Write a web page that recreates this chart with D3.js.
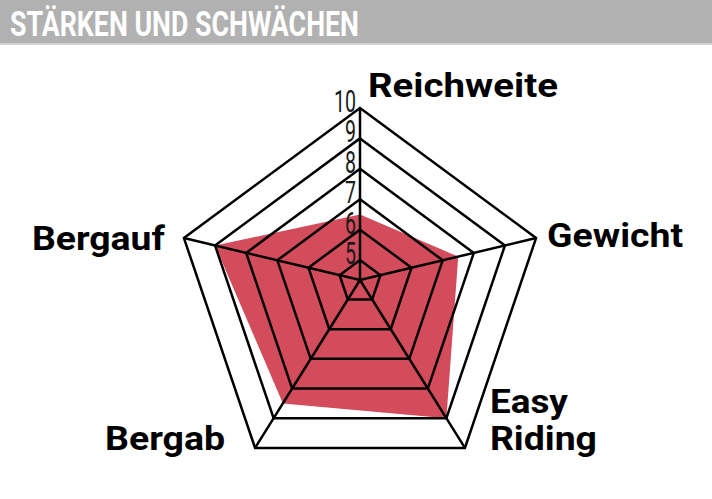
<!DOCTYPE html>
<html>
<head>
<meta charset="utf-8">
<script src="https://cdn.jsdelivr.net/npm/d3@7"></script>
<style>
  body { margin: 0; background: #fff; }
  text { font-family: Roboto, "DejaVu Sans", sans-serif; }
</style>
</head>
<body>
<svg id="chart"></svg>
<script>
const title = "STÄRKEN UND SCHWÄCHEN";
const axes = ["Reichweite", "Gewicht", "Easy Riding", "Bergab", "Bergauf"];
const scores = [6.5, 7.5, 9, 8.5, 9];
const ticks = [5, 6, 7, 8, 9, 10];

// spoke geometry, the artwork is a slightly skewed pentagon
const spokeAngle = [0, 76.6, 148, 212, 283.4];
const spokeReach = [172, 181, 198, 198, 181];
// label placement relative to the outer vertex
const labelDx = [8, 11, 25, -30, -19];
const labelDy = [-11, 9, -35, 2, 12];
const labelAnchor = ["start", "start", "start", "end", "end"];
// printed width of each label line (the original face is wide)
const lineWidth = { "Reichweite": 190, "Gewicht": 136, "Easy": 78, "Riding": 107, "Bergab": 120, "Bergauf": 133 };

const width = 712, height = 499;
const cx = 360, cy = 280;

let svg = d3.select("#chart")
    .attr("width", width)
    .attr("height", height);

// header
svg.append("rect")
    .attr("x", 0).attr("y", 0)
    .attr("width", width).attr("height", 44)
    .attr("fill", "#b1b1b1");
svg.append("rect")
    .attr("x", 0).attr("y", 43)
    .attr("width", width).attr("height", 2)
    .attr("fill", "#d4d4d4");
svg.append("text")
    .attr("x", 10).attr("y", 36)
    .attr("fill", "#fff")
    .attr("font-size", 35)
    .attr("font-weight", 700)
    .attr("textLength", 349)
    .attr("lengthAdjust", "spacingAndGlyphs")
    .text(title);

// radial scale: value -> fraction of the spoke
let r = d3.scaleLinear().domain([5, 10]).range([0.116, 1]);

function pt(i, v) {
    let a = spokeAngle[i] * Math.PI / 180;
    let d = r(v) * spokeReach[i];
    return [cx + d * Math.sin(a), cy - d * Math.cos(a)];
}

let line = d3.line().curve(d3.curveLinearClosed);

// score area
svg.append("path")
    .attr("d", line(scores.map((v, i) => pt(i, v))))
    .attr("fill", "#d24c5b");

// rings
svg.append("g")
    .selectAll("path")
    .data(ticks)
    .join("path")
    .attr("d", t => line(axes.map((a, i) => pt(i, t))))
    .attr("fill", "none")
    .attr("stroke", "#000")
    .attr("stroke-width", 2.5);

// spokes
svg.append("g")
    .selectAll("line")
    .data(axes)
    .join("line")
    .attr("x1", cx).attr("y1", cy)
    .attr("x2", (a, i) => pt(i, 10)[0])
    .attr("y2", (a, i) => pt(i, 10)[1])
    .attr("stroke", "#000")
    .attr("stroke-width", 2.5);

// tick numbers along the top spoke
svg.append("g")
    .selectAll("text")
    .data(ticks)
    .join("text")
    .attr("x", cx - 4)
    .attr("y", t => pt(0, t)[1] + 4)
    .attr("text-anchor", "end")
    .attr("font-size", 31)
    .attr("font-weight", 400)
    .attr("fill", "#1a1a1a")
    .attr("textLength", t => String(t).length * 11)
    .attr("lengthAdjust", "spacingAndGlyphs")
    .text(t => t);

// axis labels, one text per line
let labelLines = axes.flatMap((a, i) => a.split(" ").map((w, j) => ({ w, i, j })));

svg.append("g")
    .selectAll("text")
    .data(labelLines)
    .join("text")
    .attr("x", d => pt(d.i, 10)[0] + labelDx[d.i])
    .attr("y", d => pt(d.i, 10)[1] + labelDy[d.i] + d.j * 37)
    .attr("text-anchor", d => labelAnchor[d.i])
    .attr("font-size", 34)
    .attr("font-weight", 700)
    .attr("fill", "#000")
    .attr("textLength", d => lineWidth[d.w])
    .attr("lengthAdjust", "spacingAndGlyphs")
    .text(d => d.w);
</script>
</body>
</html>
